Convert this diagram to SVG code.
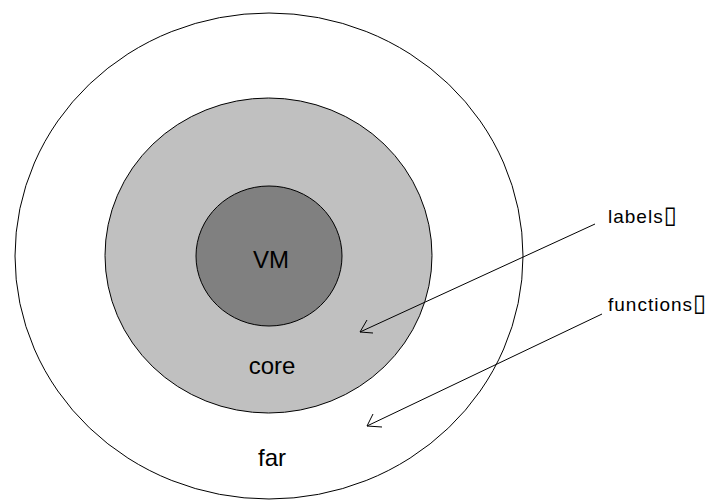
<svg xmlns="http://www.w3.org/2000/svg" width="721" height="501" viewBox="0 0 721 501">
  <style>
    .ring { stroke: #000; stroke-width: 1; }
    .big { font-family: "Liberation Sans", Arial, sans-serif; font-size: 24px; fill: #000; text-anchor: middle; }
    .note { font-family: "Liberation Sans", Arial, sans-serif; font-size: 19px; letter-spacing: 1px; fill: #000; }
    .box { font-family: "DejaVu Sans", sans-serif; font-size: 24px; }
    .arrow { stroke: #000; stroke-width: 1; fill: none; }
  </style>
  <rect width="721" height="501" fill="#fff"/>
  <g id="far">
    <ellipse class="ring" cx="269" cy="256" rx="254" ry="243" fill="#fff"/>
    <text class="big" x="272" y="466">far</text>
  </g>
  <g id="core">
    <ellipse class="ring" cx="268.5" cy="255.5" rx="163.5" ry="157.5" fill="#c0c0c0"/>
    <text class="big" x="272" y="374">core</text>
  </g>
  <g id="vm">
    <ellipse class="ring" cx="269" cy="256" rx="73" ry="70" fill="#808080"/>
    <text class="big" x="271" y="268">VM</text>
  </g>
  <g id="labels">
    <text class="note" x="608" y="223">labels<tspan class="box">▯</tspan></text>
  </g>
  <g id="functions">
    <text class="note" x="608" y="311">functions<tspan class="box">▯</tspan></text>
  </g>
  <g id="connectors">
    <path class="arrow" d="M595 224 L360 332 M367 320 L360 332 L373 333"/>
    <path class="arrow" d="M602 314 L367 426 M373 414 L367 426 L382 427"/>
  </g>
</svg>
